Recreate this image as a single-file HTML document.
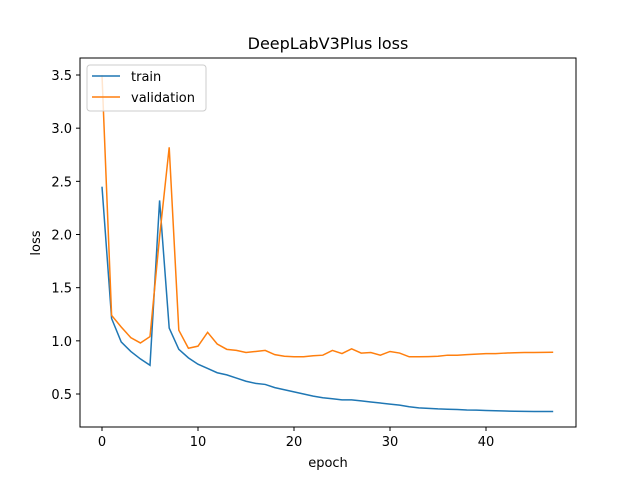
<!DOCTYPE html>
<html><head><meta charset="utf-8"><style>
body{margin:0;background:#fff;}
svg{display:block;font-family:"DejaVu Sans","Liberation Sans",sans-serif;}
</style></head><body>
<svg id="chart" width="640" height="480">
<rect width="640" height="480" fill="#fff"/>
<text x="328" y="49" font-size="16" text-anchor="middle">DeepLabV3Plus loss</text>
<g id="ticks"></g>
<g id="lines"></g>
<rect x="80" y="58" width="496" height="369" fill="none" stroke="#000" stroke-width="1"/>
<text x="328" y="467" font-size="13" text-anchor="middle">epoch</text>
<text x="40" y="243" font-size="13" text-anchor="middle" transform="rotate(-90 40 243)">loss</text>
<g>
<rect x="87" y="65" width="119" height="46" rx="3" fill="#fff" fill-opacity="0.8" stroke="#ccc"/>
<line x1="92" y1="76" x2="120" y2="76" stroke="#1f77b4" stroke-width="1.5"/>
<text x="131" y="81" font-size="13">train</text>
<line x1="92" y1="97" x2="120" y2="97" stroke="#ff7f0e" stroke-width="1.5"/>
<text x="131" y="102" font-size="13">validation</text>
</g>
</svg>
<script>
const epochs = Array.from({length:48},(_, i)=>i);
const train = [2.45,1.21,0.99,0.90,0.83,0.77,2.32,1.12,0.92,0.84,0.78,0.74,0.70,0.68,0.65,0.62,0.60,0.59,0.56,0.54,0.52,0.50,0.48,0.465,0.455,0.445,0.445,0.435,0.425,0.415,0.405,0.395,0.38,0.37,0.365,0.36,0.357,0.354,0.35,0.348,0.345,0.343,0.34,0.338,0.337,0.336,0.336,0.335];
const validation = [3.5,1.24,1.13,1.03,0.98,1.04,1.98,2.82,1.10,0.93,0.95,1.08,0.97,0.92,0.91,0.89,0.90,0.91,0.87,0.855,0.85,0.85,0.86,0.865,0.91,0.88,0.925,0.885,0.89,0.865,0.90,0.885,0.85,0.85,0.852,0.855,0.865,0.865,0.87,0.875,0.88,0.88,0.885,0.888,0.89,0.89,0.892,0.893];
const xTicks = [0,10,20,30,40];
const yTicks = [0.5,1.0,1.5,2.0,2.5,3.0,3.5];
const NS="http://www.w3.org/2000/svg";
function xs(v){return 102+v*9.6;}
function ys(v){return 394-(v-0.5)*106.33;}
const tg=document.getElementById('ticks');
xTicks.forEach(t=>{
  const l=document.createElementNS(NS,'line');
  l.setAttribute('x1',xs(t));l.setAttribute('x2',xs(t));l.setAttribute('y1',427);l.setAttribute('y2',431);l.setAttribute('stroke','#000');
  
  
  tg.appendChild(l);
  const tx=document.createElementNS(NS,'text');
  tx.setAttribute('x',xs(t));tx.setAttribute('y',446);tx.setAttribute('font-size','13');tx.setAttribute('text-anchor','middle');
  tx.textContent=t;
  
  
  tg.appendChild(tx);
});
yTicks.forEach(t=>{
  const l=document.createElementNS(NS,'line');
  l.setAttribute('x1',76);l.setAttribute('x2',80);l.setAttribute('y1',ys(t));l.setAttribute('y2',ys(t));l.setAttribute('stroke','#000');
  
  
  tg.appendChild(l);
  const tx=document.createElementNS(NS,'text');
  tx.setAttribute('x',72);tx.setAttribute('y',ys(t)+5);tx.setAttribute('font-size','13');tx.setAttribute('text-anchor','end');
  tx.textContent=t.toFixed(1);
  
  
  tg.appendChild(tx);
});
const lg=document.getElementById('lines');
function addLine(data,color,name){
  const p=document.createElementNS(NS,'polyline');
  p.setAttribute('points',data.map((v,i)=>xs(epochs[i])+','+ys(v)).join(' '));
  p.setAttribute('fill','none');p.setAttribute('stroke',color);p.setAttribute('stroke-width','1.5');
  
  
  lg.appendChild(p);
}
addLine(train,'#1f77b4','train-line');
addLine(validation,'#ff7f0e','validation-line');
</script>
</body></html>
